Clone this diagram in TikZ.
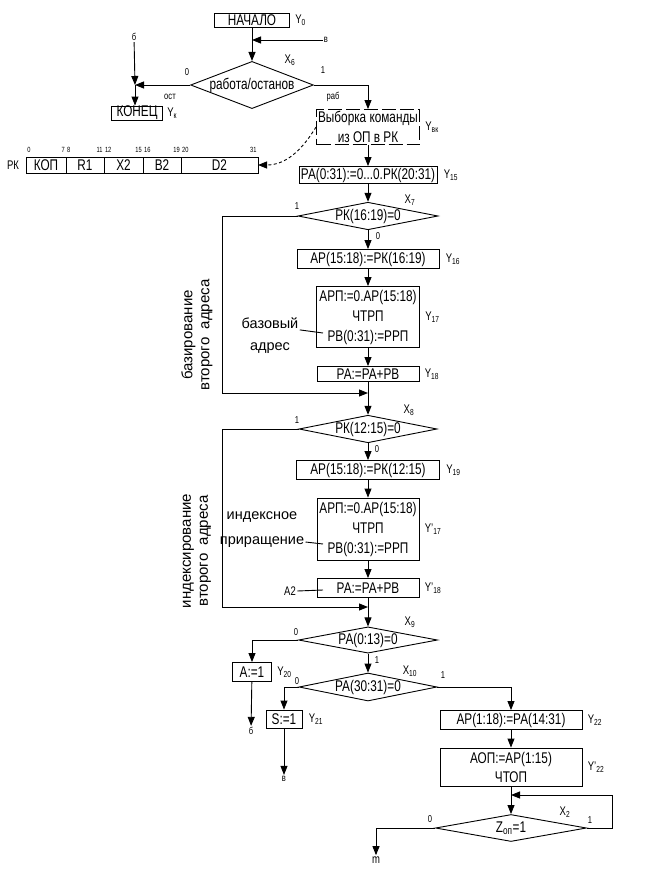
\documentclass[tikz,border=0pt]{standalone}
\usepackage{fontspec}
\setmainfont{Liberation Sans}[FakeStretch=0.76]
\newfontfamily\plainfont{Liberation Sans}
\usetikzlibrary{positioning,arrows.meta,shapes.geometric}

\begin{document}
\begin{tikzpicture}[
  x=1pt, y=-1pt,
  line width=0.9pt,
  font=\fontsize{15.5}{20}\selectfont,
  block/.style={draw, inner sep=0pt, align=center, minimum height=19pt},
  cond/.style={draw, diamond, aspect=5, inner sep=0pt, minimum width=139pt, minimum height=26pt},
  cell/.style={draw, inner sep=0pt, outer sep=0pt, minimum height=16pt},
  arr/.style={-{Triangle[length=9pt,width=7pt]}},
  lbl/.style={font=\fontsize{12.5}{13}\selectfont, inner sep=1pt},
  num/.style={font=\fontsize{10}{11}\selectfont, inner sep=1pt},
  bit/.style={font=\fontsize{7.5}{8}\selectfont, inner sep=0pt},
  note/.style={font=\plainfont\fontsize{14.5}{16}\selectfont, align=center, inner sep=1pt},
  side/.style={font=\plainfont\fontsize{15}{17}\selectfont, align=center, rotate=90, inner sep=0pt}
]
\useasboundingbox (0,0) rectangle (653,889);

% start / stop
\node[block, minimum width=75pt, minimum height=14pt] (start) at (252,20) {НАЧАЛО};
\node[lbl, right=4pt of start] (y0) {Y\textsubscript{0}};
\node[cond, aspect=2.6, minimum width=120pt, minimum height=46pt] (d6) at (252,85) {работа/останов};
\node[lbl] (x6) at (290,60) {X\textsubscript{6}};
\node[num] (b1) at (134,37) {б};
\node[num] (v1) at (326,40) {в};
\coordinate (j1) at (135,85);
\node[block, minimum width=51pt, minimum height=14pt] (end) at (137,113) {КОНЕЦ};
\node[lbl, right=3pt of end] (yk) {Y\textsubscript{к}};
\node[num] (d6a) at (187,72) {0};
\node[num] (d6b) at (170,97) {ост};
\node[num] (d6c) at (323,70) {1};
\node[num] (d6d) at (333,97) {раб};

\draw[arr] (start) -- (d6);
\draw[arr] (v1) -- (v1 -| start);
\draw[arr] (d6.west) -- (j1);
\draw[arr] (b1) -- (j1);
\draw[arr] (j1) -- (j1 |- end.north);

% fetch
\node[block, dash pattern=on 14pt off 4pt, minimum width=103pt, minimum height=35pt] (fetch) at (368,127) {Выборка команды\\из ОП в РК};
\node[lbl, right=4pt of fetch] (yvk) {Y\textsubscript{вк}};
\draw[arr] (d6.east) -| (fetch.north);

% command register
\node[lbl] (rk) at (13,165) {РК};
\node[cell, minimum width=40pt] (kop) at (46,165) {КОП};
\node[cell, minimum width=38pt, right=0pt of kop] (r1) {R1};
\node[cell, minimum width=39pt, right=0pt of r1] (x2) {X2};
\node[cell, minimum width=38pt, right=0pt of x2] (b2) {B2};
\node[cell, minimum width=77pt, right=0pt of b2] (d2) {D2};
\node[bit, above right=4pt and 1pt of kop.north west] (bit0) {0};
\foreach \c/\t in {r1/7\,\,8, x2/11\,\,12, b2/15\,\,16, d2/19\,\,20}
  \node[bit, above=4pt of \c.north west] (bit-\c) {\t};
\node[bit, above left=4pt and 1pt of d2.north east] (bit31) {31};
\draw[arr, dash pattern=on 3pt off 2.5pt] (fetch.west) .. controls (302,150) and (286,165) .. (d2.east);

\node[block, minimum width=138pt, minimum height=17pt] (pa) at (368,175) {РА(0:31):=0...0.РК(20:31)};
\node[lbl, right=5pt of pa] (y15) {Y\textsubscript{15}};
\draw[arr] (fetch) -- (pa);

% base addressing
\node[cond, minimum width=140pt] (d7) at (368,216) {РК(16:19)=0};
\node[lbl] (x7) at (410,200) {X\textsubscript{7}};
\node[num] (d7a) at (297,206) {1};
\node[num] (d7b) at (378,236) {0};
\node[block, minimum width=142pt] (ar16) at (368,259) {АР(15:18):=РК(16:19)};
\node[lbl, right=5pt of ar16] (y16) {Y\textsubscript{16}};
\node[block, minimum width=103pt, minimum height=61pt] (rpb1) at (368,317) {АРП:=0.АР(15:18)\\ЧТРП\\РВ(0:31):=РРП};
\node[lbl, right=4pt of rpb1] (y17) {Y\textsubscript{17}};
\node[block, minimum width=102pt, minimum height=15pt] (add1) at (368,374) {РА:=РА+РВ};
\node[lbl, right=4pt of add1] (y18) {Y\textsubscript{18}};
\node[note] (bas1) at (270,323) {базовый};
\node[note] (bas2) at (270,348) {адрес};
\coordinate (rv1) at (323,333);
\node[side] (basv) at (197,335) {базирование\\второго\ \ адреса};
\coordinate (lp1) at (222,393);
\coordinate (j2) at (368,393);

\draw[arr] (pa) -- (d7);
\draw[arr] (d7) -- (ar16);
\draw[arr] (ar16) -- (rpb1);
\draw[arr] (rpb1) -- (add1);
\draw (bas1.south east) -- (rv1);
\draw[arr] (d7.west) -| (lp1) -- (j2);

% index addressing
\node[cond, minimum width=138pt] (d8) at (368,429) {РК(12:15)=0};
\node[lbl] (x8) at (409,410) {X\textsubscript{8}};
\node[num] (d8a) at (297,420) {1};
\node[num] (d8b) at (377,449) {0};
\node[block, minimum width=143pt] (ar19) at (368,470) {АР(15:18):=РК(12:15)};
\node[lbl, right=5pt of ar19] (y19) {Y\textsubscript{19}};
\node[block, minimum width=102pt, minimum height=62pt] (rpb2) at (368,529) {АРП:=0.АР(15:18)\\ЧТРП\\РВ(0:31):=РРП};
\node[lbl, right=4pt of rpb2] (y17b) {Y'\textsubscript{17}};
\node[block, minimum width=102pt] (add2) at (368,588) {РА:=РА+РВ};
\node[lbl, right=4pt of add2] (y18b) {Y'\textsubscript{18}};
\node[note] (idx1) at (262,517) {индексное};
\node[note] (idx2) at (262,542) {приращение};
\coordinate (rv2) at (323,544);
\node[lbl] (a2lab) at (290,591) {А2};
\coordinate (ra2) at (323,590);
\node[side] (idxv) at (197,551) {индексирование\\второго\ \ адреса};
\coordinate (lp2) at (222,607);
\coordinate (j3) at (368,607);

\draw[arr] (add1) -- (d8);
\draw[arr] (d8) -- (ar19);
\draw[arr] (ar19) -- (rpb2);
\draw[arr] (rpb2) -- (add2);
\draw (idx2.east) -- (rv2);
\draw (a2lab.east) -- (ra2);
\draw[arr] (d8.west) -| (lp2) -- (j3);

% address checks
\node[cond, minimum width=139pt] (d9) at (368,640) {РА(0:13)=0};
\node[lbl] (x9) at (410,622) {X\textsubscript{9}};
\node[num] (d9a) at (296,632) {0};
\node[num] (d9b) at (377,660) {1};
\node[block, minimum width=39pt] (a1) at (252,672) {А:=1};
\node[lbl, right=4pt of a1] (y20) {Y\textsubscript{20}};
\node[num] (b3) at (251,731) {б};
\node[cond, minimum width=137pt, minimum height=28pt] (d10) at (368,687) {РА(30:31)=0};
\node[lbl] (x10) at (410,671) {X\textsubscript{10}};
\node[num] (d10a) at (297,681) {0};
\node[num] (d10b) at (443,675) {1};
\node[block, minimum width=36pt, minimum height=18pt] (s1) at (284,719) {S:=1};
\node[lbl, right=5pt of s1] (y21) {Y\textsubscript{21}};
\node[num] (v2) at (284,779) {в};

\draw[arr] (add2) -- (d9);
\draw[arr] (d9.west) -| (a1);
\draw[arr] (a1) -- (b3);
\draw[arr] (d9) -- (d10);
\draw[arr] (d10.west) -| (s1);
\draw[arr] (s1) -- (v2);

% memory read
\node[block, minimum width=142pt] (ar22) at (511,720) {АР(1:18):=РА(14:31)};
\node[lbl, right=4pt of ar22] (y22) {Y\textsubscript{22}};
\node[block, minimum width=142pt, minimum height=38pt] (aop) at (511,767) {АОП:=АР(1:15)\\[-1pt]ЧТОП};
\node[lbl, right=4pt of aop] (y22b) {Y'\textsubscript{22}};
\node[cond, minimum width=151pt, minimum height=27pt] (dz) at (511,828) {Z\textsubscript{оп}=1};
\node[lbl] (x2lab) at (565,812) {X\textsubscript{2}};
\node[num] (dza) at (430,819) {0};
\node[num] (dzb) at (590,820) {1};
\node[lbl] (mlab) at (376,860) {m};
\coordinate (lp3) at (612,795);

\draw[arr] (d10.east) -| (ar22);
\draw[arr] (ar22) -- (aop);
\draw[arr] (aop) -- (dz);
\draw[arr] (dz.east) -| (lp3) -- (lp3 -| aop.south);
\draw[arr] (dz.west) -| (mlab);

\end{tikzpicture}
\end{document}
